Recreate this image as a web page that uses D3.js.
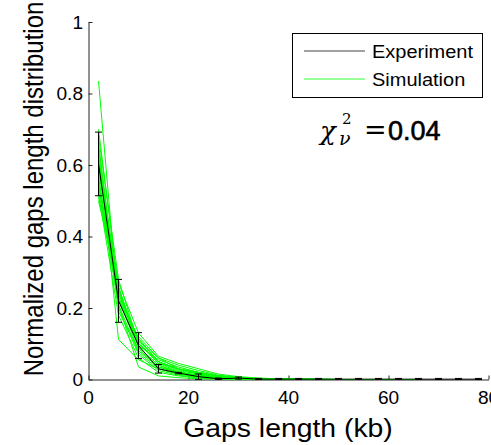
<!DOCTYPE html>
<html>
<head>
<meta charset="utf-8">
<script src="https://cdn.jsdelivr.net/npm/d3@7"></script>
<style>
  body { margin: 0; background: #fff; }
  svg { display: block; }
  text { font-family: "Liberation Sans", Arial, sans-serif; fill: #000; }
</style>
</head>
<body>
<div id="chart"></div>
<script>
// gap length bins (kb), centre of each bin
var gapBins = [2, 6, 10, 14, 18, 22, 26, 30, 34, 38, 42, 46, 50, 54, 58, 62, 66, 70, 74, 78];

// experiment: mean and error bar half-height
var expMean = [0.603, 0.220, 0.095, 0.030, 0.018, 0.008, 0.002, 0.004, 0.001, 0.001,
               0.001, 0.001, 0.001, 0.001, 0.001, 0.001, 0.001, 0.001, 0.001, 0.001];
var expErr  = [0.089, 0.060, 0.036, 0.012, 0.002, 0.0075, 0.002, 0.003, 0.002, 0.002,
               0.002, 0.002, 0.002, 0.002, 0.002, 0.002, 0.002, 0.002, 0.002, 0.002];

// simulation runs (one array per run, same bins as above)
var sim01 = [0.835, 0.190, 0.085, 0.035, 0.020, 0.012, 0.006, 0.003, 0.002, 0.001, 0.001, 0, 0, 0, 0, 0, 0];
var sim02 = [0.700, 0.250, 0.110, 0.050, 0.025, 0.015, 0.008, 0.004, 0.002, 0.001, 0.001, 0, 0, 0, 0, 0];
var sim03 = [0.680, 0.280, 0.100, 0.045, 0.030, 0.020, 0.010, 0.005, 0.003, 0.002, 0.001, 0.001, 0, 0, 0, 0, 0];
var sim04 = [0.660, 0.220, 0.120, 0.060, 0.040, 0.025, 0.012, 0.006, 0.003, 0.002, 0.001, 0.001, 0, 0, 0];
var sim05 = [0.640, 0.112, 0.055, 0.030, 0.015, 0.008, 0.004, 0.002, 0.001, 0, 0, 0, 0, 0];
var sim06 = [0.620, 0.260, 0.090, 0.040, 0.020, 0.010, 0.005, 0.002, 0.001, 0.001, 0, 0, 0, 0, 0, 0];
var sim07 = [0.600, 0.240, 0.100, 0.050, 0.030, 0.015, 0.006, 0.003, 0.002, 0.001, 0, 0, 0, 0, 0, 0, 0];
var sim08 = [0.580, 0.270, 0.130, 0.065, 0.045, 0.030, 0.015, 0.008, 0.004, 0.002, 0.001, 0.001, 0, 0, 0, 0];
var sim09 = [0.570, 0.200, 0.070, 0.025, 0.012, 0.006, 0.003, 0.001, 0, 0, 0, 0, 0];
var sim10 = [0.560, 0.230, 0.080, 0.035, 0.018, 0.009, 0.004, 0.002, 0.001, 0, 0, 0, 0, 0, 0];
var sim11 = [0.550, 0.210, 0.035, 0.010, 0.005, 0.002, 0.001, 0, 0, 0, 0, 0];
var sim12 = [0.540, 0.250, 0.095, 0.055, 0.035, 0.020, 0.010, 0.005, 0.002, 0.001, 0.001, 0, 0, 0, 0, 0, 0];
var sim13 = [0.530, 0.220, 0.105, 0.045, 0.022, 0.012, 0.006, 0.003, 0.001, 0.001, 0, 0, 0, 0];
var sim14 = [0.520, 0.180, 0.060, 0.020, 0.010, 0.004, 0.002, 0.001, 0, 0, 0, 0, 0];
var sim15 = [0.510, 0.240, 0.115, 0.050, 0.028, 0.018, 0.009, 0.004, 0.002, 0.001, 0, 0, 0, 0, 0, 0];
var sim16 = [0.500, 0.260, 0.090, 0.040, 0.020, 0.010, 0.005, 0.002, 0.001, 0, 0, 0, 0, 0];
var sim17 = [0.650, 0.210, 0.075, 0.030, 0.015, 0.008, 0.004, 0.002, 0.001, 0, 0, 0, 0, 0, 0, 0];
var sim18 = [0.610, 0.230, 0.110, 0.060, 0.030, 0.020, 0.010, 0.005, 0.002, 0.001, 0.001, 0, 0, 0, 0, 0, 0];
var simRuns = [sim01, sim02, sim03, sim04, sim05, sim06, sim07, sim08, sim09,
               sim10, sim11, sim12, sim13, sim14, sim15, sim16, sim17, sim18];

var xTicks = [0, 20, 40, 60, 80];
var yTicks = [0, 0.2, 0.4, 0.6, 0.8, 1];
var legendNames = ["Experiment", "Simulation"];
var chiValue = "0.04";

var W = 491, H = 445;
var svg = d3.select("#chart").append("svg").attr("width", W).attr("height", H);

var x = d3.scaleLinear().domain([0, 80]).range([88.5, 488.5]);
var y = d3.scaleLinear().domain([0, 1]).range([379.5, 22]);

// helper: text widened a bit to match the stretched original
function label(txt, px, py, size, sx, anchor, rot) {
    return svg.append("text")
        .attr("transform", "translate(" + px + "," + py + ") scale(" + sx + ",1)" + (rot ? " rotate(" + rot + ")" : ""))
        .attr("font-size", size)
        .attr("text-anchor", anchor)
        .text(txt);
}

// axes (left + bottom only, ticks pointing inward)
var axisCol = "#262626";
var yAxis = d3.axisLeft(y).tickValues(yTicks).tickSizeInner(-4).tickSizeOuter(0).tickFormat("");
var xAxis = d3.axisBottom(x).tickValues(xTicks).tickSizeInner(-4).tickSizeOuter(0).tickFormat("");
var gy = svg.append("g").attr("transform", "translate(" + x(0) + ",0)").call(yAxis);
var gx = svg.append("g").attr("transform", "translate(0," + y(0) + ")").call(xAxis);
[gx, gy].forEach(function (g) {
    g.selectAll("path, line").attr("stroke", axisCol);
    g.selectAll("text").remove();
});

yTicks.forEach(function (v) {
    label(d3.format("")(v), 83, y(v) + 6.5, 17.5, 1.09, "end");
});
// the last x label ("80") is cut by the right edge, as in the original
xTicks.forEach(function (v) {
    label(String(v), x(v), 403.5, 17.5, 1.09, "middle");
});

label("Gaps length (kb)", 288, 436.5, 26.5, 1.07, "middle");
label("Normalized gaps length distribution", 42.5, 189, 24, 1.12, "middle", -90);

// simulation lines
var line = d3.line()
    .x(function (d, i) { return x(gapBins[i]); })
    .y(function (d) { return y(d); });

svg.append("g").selectAll("path")
    .data(simRuns)
    .enter().append("path")
    .attr("d", line)
    .attr("fill", "none")
    .attr("stroke", "#00ff00")
    .attr("stroke-width", 1);

// experiment line + error bars
svg.append("path")
    .attr("d", line(expMean))
    .attr("fill", "none")
    .attr("stroke", "#000")
    .attr("stroke-width", 1);

var cap = 3.5;
var eb = svg.append("g").attr("stroke", "#000").attr("stroke-width", 1);
expMean.forEach(function (m, i) {
    var cx = x(gapBins[i]);
    var top = y(m + expErr[i]), bot = y(Math.max(0, m - expErr[i]));
    eb.append("line").attr("x1", cx).attr("x2", cx).attr("y1", top).attr("y2", bot);
    eb.append("line").attr("x1", cx - cap).attr("x2", cx + cap).attr("y1", top).attr("y2", top);
    eb.append("line").attr("x1", cx - cap).attr("x2", cx + cap).attr("y1", bot).attr("y2", bot);
});

// legend
var lg = svg.append("g");
lg.append("rect").attr("x", 292.5).attr("y", 33.5).attr("width", 190).attr("height", 64)
    .attr("fill", "#fff").attr("stroke", "#000").attr("stroke-width", 1);
var legendCols = ["#444", "#33ff33"];
var legendY = [51, 79];
legendNames.forEach(function (n, i) {
    lg.append("line").attr("x1", 304).attr("x2", 365).attr("y1", legendY[i]).attr("y2", legendY[i])
        .attr("stroke", legendCols[i]).attr("stroke-width", 1);
    lg.append("text")
        .attr("transform", "translate(372," + (legendY[i] + 6.5) + ") scale(1.08,1)")
        .attr("font-size", 18.5)
        .text(n);
});

// reduced chi-square annotation
var serif = "'DejaVu Serif', 'Liberation Serif', serif";
svg.append("text").attr("x", 320).attr("y", 140).attr("font-size", 26)
    .attr("font-style", "italic").style("font-family", serif).text("\u03c7");
svg.append("text").attr("x", 342).attr("y", 123.5).attr("font-size", 15)
    .style("font-family", serif).text("2");
svg.append("text").attr("x", 339).attr("y", 145).attr("font-size", 19)
    .attr("font-style", "italic").style("font-family", serif).text("\u03bd");
svg.append("text").attr("x", 364).attr("y", 139).attr("font-size", 27)
    .style("font-family", serif).text("=");
svg.append("text").attr("x", 388).attr("y", 140).attr("font-size", 27)
    .attr("stroke", "#000").attr("stroke-width", 0.6).text(chiValue);
</script>
</body>
</html>
